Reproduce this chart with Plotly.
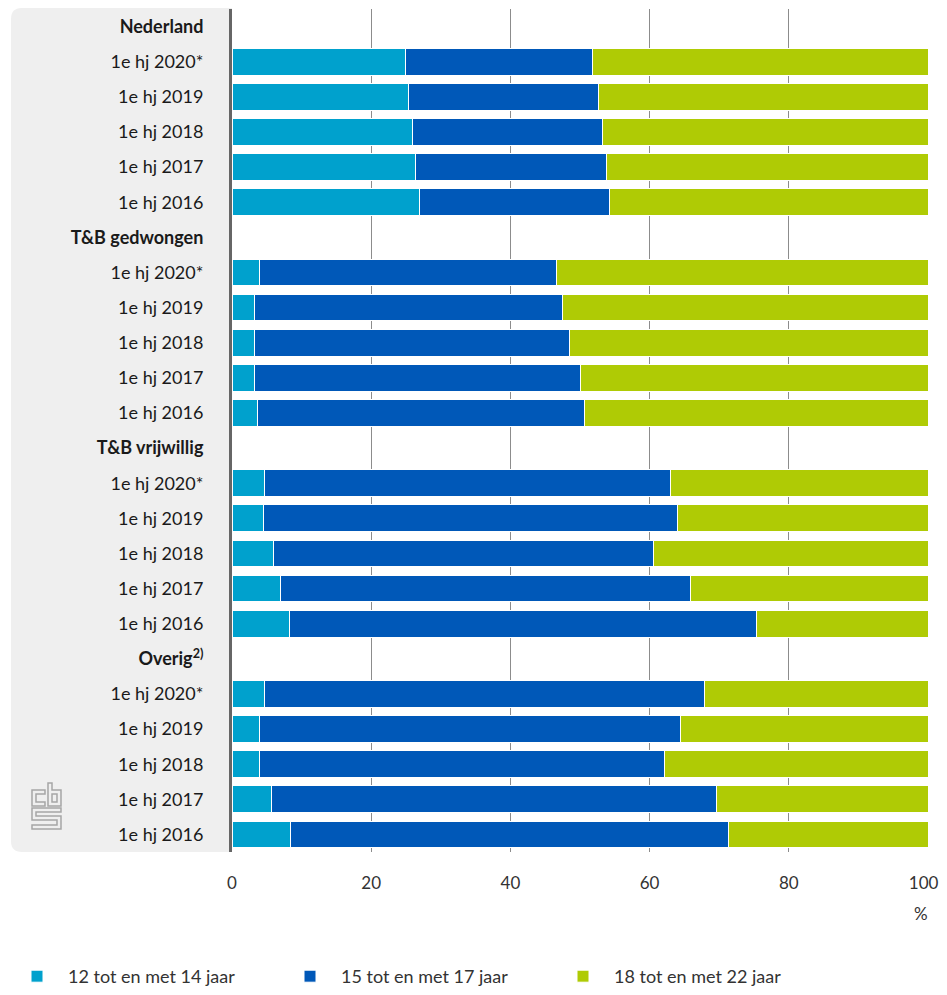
import plotly.graph_objects as go

# ---------------- data ----------------
groups = ["Nederland", "T&B gedwongen", "T&B vrijwillig", "Overig<sup>2)</sup>"]
periods = ["1e hj 2020*", "1e hj 2019", "1e hj 2018", "1e hj 2017", "1e hj 2016"]
series_names = ["12 tot en met 14 jaar", "15 tot en met 17 jaar", "18 tot en met 22 jaar"]
colors = ["#00a1cd", "#0058b8", "#afcb05"]
x_tickvals = [0, 20, 40, 60, 80, 100]
x_ticktext = ["0", "20", "40", "60", "80", "100&nbsp;&nbsp;"]

age_12_14 = {
    "Nederland":       [24.9, 25.4, 25.9, 26.4, 26.9],
    "T&B gedwongen":   [4.0, 3.3, 3.3, 3.3, 3.6],
    "T&B vrijwillig":  [4.6, 4.5, 6.0, 6.9, 8.2],
    "Overig<sup>2)</sup>": [4.6, 3.9, 3.9, 5.7, 8.4],
}
age_15_17 = {
    "Nederland":       [26.9, 27.2, 27.4, 27.4, 27.4],
    "T&B gedwongen":   [42.6, 44.2, 45.2, 46.8, 47.0],
    "T&B vrijwillig":  [58.4, 59.5, 54.6, 59.0, 67.2],
    "Overig<sup>2)</sup>": [63.3, 60.6, 58.2, 63.9, 62.9],
}
age_18_22 = {
    "Nederland":       [48.2, 47.4, 46.7, 46.2, 45.7],
    "T&B gedwongen":   [53.4, 52.5, 51.5, 49.9, 49.4],
    "T&B vrijwillig":  [37.0, 36.0, 39.4, 34.1, 24.6],
    "Overig<sup>2)</sup>": [32.1, 35.5, 37.9, 30.4, 28.7],
}
series_data = [age_12_14, age_15_17, age_18_22]

# ---------------- build rows ----------------
tickvals, ticktext = [], []
bar_y = []
pos = 0
for g in groups:
    tickvals.append(pos)
    ticktext.append("<b>" + g + "</b>")
    pos += 1
    for p in periods:
        tickvals.append(pos)
        ticktext.append(p)
        bar_y.append(pos)
        pos += 1
n_rows = pos

legend_ids = ["legend", "legend2", "legend3"]

fig = go.Figure()
for name, col, data, lg in zip(series_names, colors, series_data, legend_ids):
    xs = []
    for g in groups:
        xs.extend(data[g])
    fig.add_trace(go.Bar(
        x=xs, y=bar_y, orientation="h", name=name, legend=lg,
        marker=dict(color=col, line=dict(color="white", width=1)),
        hoverinfo="x+name",
    ))

# ---------------- layout geometry ----------------
# page body has an 8px margin, so the figure is drawn 8px lower / further right
OFF = 8
W, H = 947 - OFF, 995 - OFF
PLOT_L, PLOT_R, PLOT_T, PLOT_B = 232, 928, 9, 852   # reference pixel coords
L = PLOT_L - OFF
R = W - (PLOT_R - OFF)
T = PLOT_T - OFF
B = H - (PLOT_B - OFF)
PW = W - L - R
PH = H - T - B


def px(x):
    return (x - OFF - L) / PW


def py(y):
    return (H - B - (y - OFF)) / PH


def path(cmds):
    out = []
    for c in cmds:
        if isinstance(c, str):
            out.append(c)
        else:
            out.append(f"{px(c[0]):.5f},{py(c[1]):.5f}")
    return " ".join(out)


shapes = []
# grey rounded panel behind labels
r = 11
x0, x1, y0, y1 = 11, 232, 8, 852
panel = path([
    "M", (x0 + r, y0), "L", (x1, y0), "L", (x1, y1), "L", (x0 + r, y1),
    "Q", (x0, y1), (x0, y1 - r), "L", (x0, y0 + r), "Q", (x0, y0), (x0 + r, y0), "Z",
])
shapes.append(dict(type="path", path=panel, xref="paper", yref="paper",
                   fillcolor="#efefef", line=dict(width=0), layer="below"))

# CBS logo (outline)
logo_parts = [
    ["M", (45, 790), "L", (32, 790), "L", (32, 806), "L", (45, 806), "L", (45, 802),
     "L", (36, 802), "L", (36, 794), "L", (45, 794), "Z"],
    ["M", (48, 783), "L", (52, 783), "L", (52, 790), "L", (61, 790), "L", (61, 806),
     "L", (48, 806), "Z"],
    ["M", (52, 794), "L", (57, 794), "L", (57, 802), "L", (52, 802), "Z"],
    ["M", (32, 808), "L", (61, 808), "L", (61, 812), "L", (36, 812), "L", (36, 816),
     "L", (61, 816), "L", (61, 829), "L", (32, 829), "L", (32, 825), "L", (57, 825),
     "L", (57, 820), "L", (32, 820), "Z"],
]
for part in logo_parts:
    shapes.append(dict(type="path", path=path(part), xref="paper", yref="paper",
                       fillcolor="rgba(0,0,0,0)", line=dict(color="#a6a6a6", width=1.5),
                       layer="above"))

legend_style = dict(
    orientation="h", xanchor="left", yanchor="bottom", y=py(H + OFF),
    font=dict(size=18, color="#333"), itemwidth=52,
    bgcolor="rgba(0,0,0,0)",
)

fig.update_layout(
    width=W, height=H,
    margin=dict(l=L, r=R, t=T, b=B, pad=0, autoexpand=False),
    barmode="stack",
    bargap=0.24,
    paper_bgcolor="white",
    plot_bgcolor="white",
    font=dict(family="Lato, 'Open Sans', sans-serif", size=18, color="#222"),
    shapes=shapes,
    showlegend=True,
    legend=dict(x=px(6), **legend_style),
    legend2=dict(x=px(279), **legend_style),
    legend3=dict(x=px(552), **legend_style),
    xaxis=dict(
        range=[0, 100], tickvals=x_tickvals, ticktext=x_ticktext,
        showgrid=True, gridcolor="#8c8c8c", gridwidth=1,
        zeroline=False, showline=False,
        ticks="outside", ticklen=16, tickcolor="rgba(0,0,0,0)",
        tickfont=dict(size=17, color="#333"),
        ticklabeloverflow="allow", automargin=False,
        fixedrange=True,
    ),
    yaxis=dict(
        range=[n_rows - 0.5, -0.5],
        tickvals=tickvals, ticktext=ticktext,
        showgrid=False, zeroline=False, automargin=False,
        showline=True, linecolor="#666", linewidth=3,
        ticks="outside", ticklen=22, tickcolor="rgba(0,0,0,0)",
        tickfont=dict(size=18, color="#1a1a1a"),
        fixedrange=True,
    ),
    annotations=[
        dict(text="%", x=px(921), y=py(913), xref="paper", yref="paper",
             showarrow=False, font=dict(size=17, color="#333"),
             xanchor="center", yanchor="middle"),
    ],
)

fig.write_html("out.html")
